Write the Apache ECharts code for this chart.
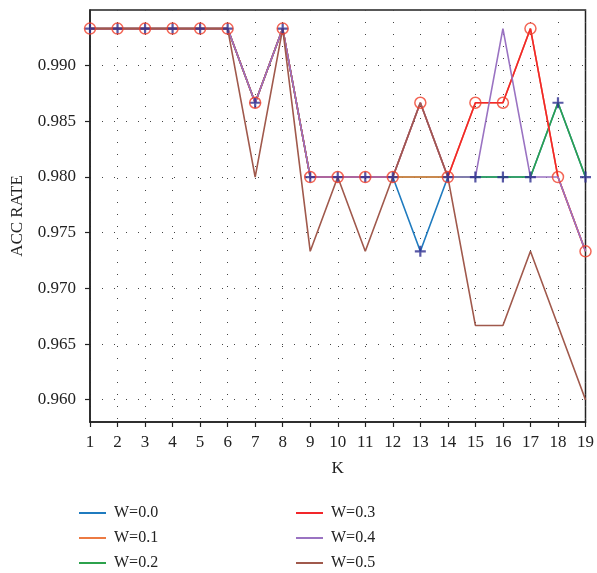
<!DOCTYPE html>
<html>
<head>
<meta charset="utf-8">
<script src="https://cdn.jsdelivr.net/npm/echarts@6/dist/echarts.min.js"></script>
<style>html,body{margin:0;padding:0;background:#fff}#c{width:597px;height:573px}</style>
</head>
<body>
<div id="c"></div>
<script>
var kValues = [1,2,3,4,5,6,7,8,9,10,11,12,13,14,15,16,17,18,19];
var seriesNames = ['W=0.0','W=0.1','W=0.2','W=0.3','W=0.4','W=0.5'];
var w00 = [0.99333,0.99333,0.99333,0.99333,0.99333,0.99333,0.98667,0.99333,0.98,0.98,0.98,0.98,0.97333,0.98,0.98,0.98,0.98,0.98667,0.98];
var w01 = [0.99333,0.99333,0.99333,0.99333,0.99333,0.99333,0.98667,0.99333,0.98,0.98,0.98,0.98,0.98,0.98,0.98667,0.98667,0.99333,0.98,0.97333];
var w02 = [0.99333,0.99333,0.99333,0.99333,0.99333,0.99333,0.98667,0.99333,0.98,0.98,0.98,0.98,0.98,0.98,0.98,0.98,0.98,0.98667,0.98];
var w03 = [0.99333,0.99333,0.99333,0.99333,0.99333,0.99333,0.98667,0.99333,0.98,0.98,0.98,0.98,0.98667,0.98,0.98667,0.98667,0.99333,0.98,0.97333];
var w04 = [0.99333,0.99333,0.99333,0.99333,0.99333,0.99333,0.98667,0.99333,0.98,0.98,0.98,0.98,0.98667,0.98,0.98,0.99333,0.98,0.98,0.97333];
var w05 = [0.99333,0.99333,0.99333,0.99333,0.99333,0.99333,0.98,0.99333,0.97333,0.98,0.97333,0.98,0.98667,0.98,0.96667,0.96667,0.97333,0.96667,0.96];
var yTicks = [0.960,0.965,0.970,0.975,0.980,0.985,0.990];
var xTicks = kValues;

var allValues = [w00,w01,w02,w03,w04,w05];
var colors = ['#1f7bbf','#ec7a42','#2ca24c','#f2262a','#9a73c2','#a0594c'];
var zOrder = [2.0, 2.02, 2.01, 2.03, 2.04, 2.05];
var font = 'Liberation Serif';

function pairs(arr){ return kValues.map(function(k,i){ return [k, arr[i]]; }); }

var series = seriesNames.map(function(n,i){
  return {
    name: n, type: 'line', data: pairs(allValues[i]),
    showSymbol: false, symbol: 'none',
    lineStyle: {color: colors[i], width: 1.6},
    itemStyle: {color: colors[i]},
    z: zOrder[i],
    animation: false
  };
});
series.push({
  name: 'plusMarks', type: 'scatter', data: pairs(w00),
  symbol: 'path://M-1,-5 L1,-5 L1,-1 L5,-1 L5,1 L1,1 L1,5 L-1,5 L-1,1 L-5,1 L-5,-1 L-1,-1 Z',
  symbolSize: 11, itemStyle: {color: '#2e2e90'}, z: 5, animation: false, silent: true
});
series.push({
  name: 'circleMarks', type: 'scatter', data: pairs(w03),
  symbol: 'circle', symbolSize: 11,
  itemStyle: {color: 'rgba(0,0,0,0)', borderColor: '#f0402c', borderWidth: 1.5},
  z: 6, animation: false, silent: true
});

var chart = echarts.init(document.getElementById('c'), null, {renderer: 'canvas'});
var legendCommon = {
  orient: 'vertical', itemWidth: 27, itemHeight: 2, icon: 'rect', itemGap: 9, padding: 0,
  height: 70,
  textStyle: {fontFamily: font, fontSize: 16, color: '#222', lineHeight: 16, padding: [0,0,0,3]},
  selectedMode: false
};
chart.setOption({
  animation: false,
  backgroundColor: '#fff',
  textStyle: {fontFamily: font},
  grid: {left: 90, right: 9, top: 10, bottom: 151, show: true, borderColor: '#222', borderWidth: 1.5},
  legend: [
    Object.assign({}, legendCommon, {left: 79, top: 505, data: seriesNames.slice(0,3)}),
    Object.assign({}, legendCommon, {left: 296, top: 505, data: seriesNames.slice(3,6)})
  ],
  xAxis: {
    type: 'value', min: 1, max: 19, interval: 1,
    name: 'K', nameLocation: 'middle', nameGap: 38,
    nameTextStyle: {fontFamily: font, fontSize: 17, color: '#222'},
    axisLine: {show: true, lineStyle: {color: '#222', width: 1.5}},
    axisTick: {show: true, inside: false, length: 5, lineStyle: {color: '#222', width: 1.2}},
    axisLabel: {fontFamily: font, fontSize: 17, color: '#222', margin: 12, customValues: xTicks},
    splitLine: {show: true, lineStyle: {color: '#444', type: [1, 11], width: 1}}
  },
  yAxis: {
    type: 'value', min: 0.958, max: 0.995,
    name: 'ACC RATE', nameLocation: 'middle', nameGap: 64, nameRotate: 90,
    nameTextStyle: {fontFamily: font, fontSize: 17, color: '#222'},
    axisLine: {show: true, lineStyle: {color: '#222', width: 1.5}},
    axisTick: {show: true, inside: false, length: 5, lineStyle: {color: '#222', width: 1.2}, customValues: yTicks},
    axisLabel: {fontFamily: font, fontSize: 17, color: '#222', margin: 14, customValues: yTicks,
      formatter: function(v){ return v.toFixed(3); }},
    splitLine: {show: true, lineStyle: {color: '#444', type: [1, 11], width: 1}}
  },
  series: series
});
</script>
</body>
</html>
